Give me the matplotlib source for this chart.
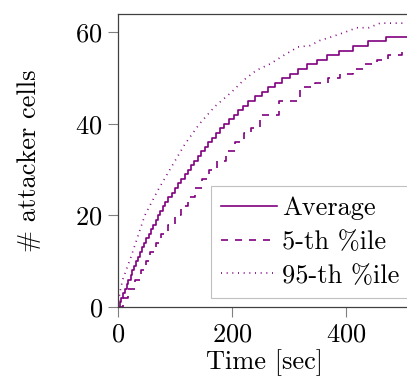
import numpy as np
import matplotlib
matplotlib.use("Agg")
import matplotlib.pyplot as plt

plt.rcParams['font.family'] = ['cmr10', 'DejaVu Serif']
plt.rcParams['mathtext.fontset'] = 'cm'
plt.rcParams['axes.formatter.use_mathtext'] = True

# average: time at which the count reaches 1, 2, ..., 59
avg_times = [3, 6, 9, 12, 15, 18, 22, 25, 28, 32, 35, 39, 42, 46, 50, 54, 58, 62,
             66, 70, 74, 79, 83, 88, 95, 100, 106, 111, 117, 123, 128, 134, 140,
             146, 152, 158, 165, 172, 179, 186, 195, 203, 211, 220, 229, 240, 252,
             264, 275, 287, 301, 316, 331, 349, 367, 388, 413, 439, 471]
avg_vals = list(range(1, 60))

# 5-th percentile (step function)
p5_times = [0, 8, 18, 30, 40, 50, 56, 66, 75, 88, 100, 110, 123, 135, 147, 160,
            174, 189, 205, 221, 233, 250, 283, 319, 346, 369, 390, 413, 433, 454,
            474, 498]
p5_vals = [0, 2, 4, 6, 8, 10, 12, 14, 16, 18, 20, 22, 24, 26, 28, 30, 32, 34, 36,
           38, 39, 42, 45, 48, 49, 50, 51, 52, 53, 54, 55, 56]

# 95-th percentile
p95_times = [0, 3, 8, 23, 47, 70, 91, 117, 143, 170, 199, 220, 243, 267, 290,
             316, 337, 354, 372, 398, 419, 440, 460, 516]
p95_vals = [0, 3, 5.9, 11, 20, 25.5, 30, 35.5, 40, 43.8, 46.9, 49.5, 51.7, 53.1,
            54.9, 56.8, 57.1, 58.2, 58.9, 60, 61, 61, 62, 62]

x_end = 516
color = (0.5, 0.0, 0.5)

fig = plt.figure(figsize=(4.07, 3.81), dpi=100)
ax = fig.add_axes([118 / 407, 1 - 307 / 381, 294 / 407, 293 / 381])

ax.plot([0] + avg_times + [x_end], [0] + avg_vals + [avg_vals[-1]],
        drawstyle='steps-post', color=color, lw=1.2, label="Average")
ax.plot(p5_times + [x_end], p5_vals + [p5_vals[-1]],
        drawstyle='steps-post', color=color, lw=1.2, dashes=(4.2, 4.2),
        label="5-th %ile")
ax.plot(p95_times, p95_vals, color=color, lw=1.2, dashes=(0.6, 2.8),
        label="95-th %ile")

ax.set_xlim(0, x_end)
ax.set_ylim(0, 64)
ax.set_xticks([0, 200, 400])
ax.set_yticks([0, 20, 40, 60])
ax.tick_params(direction='out', length=7, width=0.8, color='#808080',
               labelsize=19, pad=4)
for s in ax.spines.values():
    s.set_color('#404040')
    s.set_linewidth(0.9)

ax.set_xlabel("Time [sec]", fontsize=19, labelpad=2)
ax.set_ylabel("# attacker cells", fontsize=19, labelpad=25)

leg = ax.legend(loc='lower right', bbox_to_anchor=(0.993, 0.03), fontsize=19,
                frameon=True, fancybox=False, framealpha=1, handlelength=2.1,
                handletextpad=0.2, borderpad=0.4, labelspacing=0.38,
                borderaxespad=0)
leg.get_frame().set_edgecolor('#c0c0c0')
leg.get_frame().set_linewidth(0.8)

fig.savefig("out.png", dpi=100)
